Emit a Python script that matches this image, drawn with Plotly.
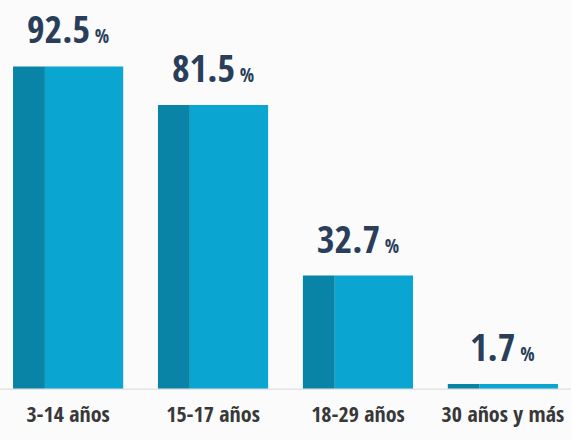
import plotly.graph_objects as go

categories = ["3-14 años", "15-17 años", "18-29 años", "30 años y más"]
values = [92.5, 81.5, 32.7, 1.7]
value_labels = ["92.5", "81.5", "32.7", "1.7"]

dark = "#0a84a6"
light = "#0aa6d1"
navy = "#2a3e5a"
font_fam = "Open Sans Condensed, Roboto Condensed, sans-serif"

idx = list(range(len(categories)))
fig = go.Figure()
fig.add_trace(go.Bar(x=idx, y=values, width=0.22, offset=-0.38,
                     marker=dict(color=dark, line=dict(width=0)), hoverinfo="skip"))
fig.add_trace(go.Bar(x=idx, y=values, width=0.54, offset=-0.16,
                     marker=dict(color=light, line=dict(width=0)), hoverinfo="skip"))

for i, (v, lab) in enumerate(zip(values, value_labels)):
    fig.add_annotation(x=i, y=v, xref="x", yref="y", yanchor="bottom", yshift=10,
                       showarrow=False,
                       text=f"<b>{lab}</b><b><span style='font-size:19px'> %</span></b>",
                       font=dict(family=font_fam, size=38, color=navy))

fig.update_layout(
    width=571, height=440,
    margin=dict(l=0, r=0, t=0, b=50),
    paper_bgcolor="#fbfbfb", plot_bgcolor="#fbfbfb",
    barmode="overlay", showlegend=False,
    xaxis=dict(range=[-0.47, 3.47], tickvals=idx, ticktext=[f"<b>{c}</b>" for c in categories],
               showgrid=False, zeroline=False, showline=False, ticks="",
               tickfont=dict(family=font_fam, size=22, color="#383838"),
               ticklabelstandoff=9, fixedrange=True),
    yaxis=dict(range=[0, 111.5], visible=False, fixedrange=True),
)
fig.add_hline(y=0, line=dict(color="#e4e4e4", width=3))

fig.write_html("out.html", config={"displayModeBar": False},
               post_script="document.body.style.margin='0';document.body.style.background='#fbfbfb';")
